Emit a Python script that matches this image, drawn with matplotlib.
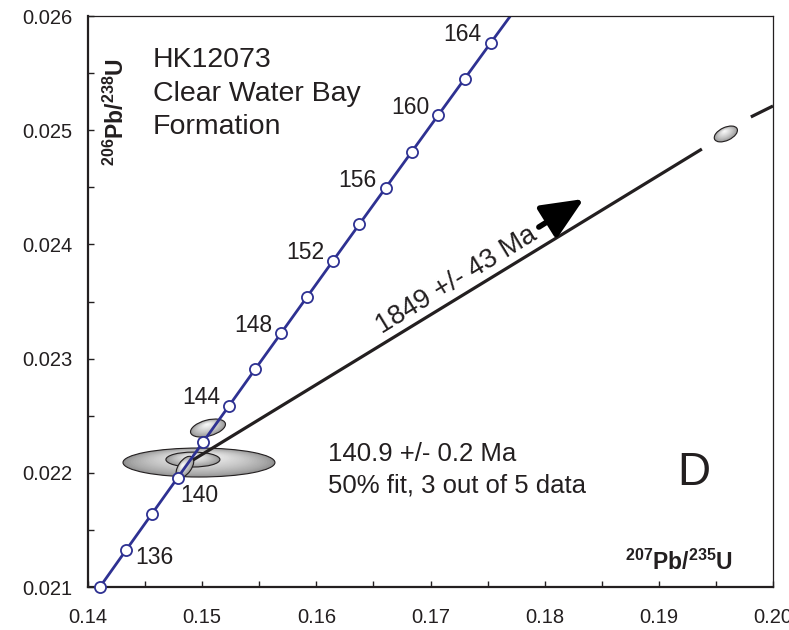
import numpy as np
import matplotlib
matplotlib.use("Agg")
import matplotlib.pyplot as plt
from matplotlib.patches import Ellipse
from matplotlib.ticker import MultipleLocator, FormatStrFormatter
import matplotlib.transforms as mtransforms

plt.rcParams['font.family'] = ['Liberation Sans', 'DejaVu Sans']
plt.rcParams['mathtext.fontset'] = 'custom'
plt.rcParams['mathtext.rm'] = 'Liberation Sans'
plt.rcParams['mathtext.bf'] = 'Liberation Sans:bold'

# ---- data ----
ages = [134, 136, 138, 140, 142, 144, 146, 148, 150, 152, 154, 156, 158, 160, 162, 164, 166]
conc_x = [0.14107, 0.14332, 0.14558, 0.14784, 0.15010, 0.15237, 0.15464, 0.15692, 0.15920,
          0.16148, 0.16377, 0.16607, 0.16837, 0.17067, 0.17298, 0.17529, 0.17762]
conc_y = [0.021004, 0.021321, 0.021638, 0.021955, 0.022272, 0.022589, 0.022907, 0.023224, 0.023542,
          0.023859, 0.024177, 0.024495, 0.024813, 0.025131, 0.025449, 0.025767, 0.026085]
label_ages = [136, 140, 144, 148, 152, 156, 160, 164]

# discordia segments (lower intercept -> gap around outlier ellipse -> axis edge)
disc1_x = [0.14919, 0.19377]
disc1_y = [0.022112, 0.024835]
disc2_x = [0.19806, 0.2000]
disc2_y = [0.025116, 0.025212]

# error ellipses: centre x, centre y, major, minor (in y-units on an equal-pixel scale), angle
ell_x = [0.14972, 0.14919, 0.14849, 0.15051, 0.19587]
ell_y = [0.022090, 0.022116, 0.022051, 0.022392, 0.024967]
ell_a = [0.001331, 0.000473, 0.000215, 0.000315, 0.000218]
ell_b = [0.000254, 0.000131, 0.000114, 0.000140, 0.000115]
ell_ang = [0, 0, 55, 15, 25]

# arrow (upper intercept direction)
arrow_tail = (0.17949, 0.024152)
arrow_tip = (0.18343, 0.024398)

TXT = '#231f20'
BLUE = '#2E3192'

fig = plt.figure(figsize=(7.89, 6.30), dpi=100)
ax = fig.add_axes([88/789, 43/630, (773-88)/789, (587-16)/630])
ax.set_xlim(0.14, 0.20)
ax.set_ylim(0.021, 0.026)

# ellipses with gradient (drawn in an equal-pixel space: x/10 vs y)
tr = mtransforms.Affine2D().scale(10, 1) + ax.transData
c_edge = np.array([0.56, 0.56, 0.56])
c_mid = np.array([0.98, 0.98, 0.98])
N = 30
for i, (cx, cy, a, b, ang) in enumerate(zip(ell_x, ell_y, ell_a, ell_b, ell_ang)):
    z = 1 + i * 0.01
    for k in range(N):
        s = 1 - k / N
        t = (k / (N - 1)) ** 0.7
        col = c_edge * (1 - t) + c_mid * t
        off = (1 - s) * 0.25 * b
        th = np.deg2rad(ang)
        ox, oy = -off * np.sin(th), off * np.cos(th)
        e = Ellipse((cx / 10 + ox, cy + oy), a * s, b * s, angle=ang, transform=tr,
                    facecolor=col, edgecolor='none', zorder=z)
        ax.add_patch(e)
    e = Ellipse((cx / 10, cy), a, b, angle=ang, transform=tr, facecolor='none',
                edgecolor=TXT, lw=0.8, zorder=z + 0.005)
    ax.add_patch(e)

# discordia
ax.plot(disc1_x, disc1_y, color=TXT, lw=2.3, zorder=3, solid_capstyle='butt')
ax.plot(disc2_x, disc2_y, color=TXT, lw=2.3, zorder=3, solid_capstyle='butt')

# concordia
ax.plot(conc_x, conc_y, color=BLUE, lw=2.0, zorder=4)
mx = conc_x[:-1]
my = conc_y[:-1]
ax.plot(mx, my, ls='none', marker='o', ms=8, mfc='white', mec=BLUE, mew=1.3,
        zorder=5, clip_on=False)

for age in label_ages:
    i = ages.index(age)
    if age == 136:
        off, ha, va = (6.5, -5.5), 'left', 'center'
    elif age == 140:
        off, ha, va = (16, -13), 'center', 'center'
    else:
        off, ha, va = (-6.5, 5.5), 'right', 'center'
    ax.annotate(str(age), (conc_x[i], conc_y[i]), xytext=off, textcoords='offset points',
                ha=ha, va=va, fontsize=16.5, color=TXT, zorder=6)

# arrow
ax.annotate('', xy=arrow_tip, xytext=arrow_tail,
            arrowprops=dict(arrowstyle='-|>,head_length=1.7,head_width=0.75',
                            mutation_scale=15, lw=4, color='black',
                            shrinkA=0, shrinkB=0), zorder=6)

ax.text(0.17231, 0.023690, '1849 +/- 43 Ma', rotation=31.4, rotation_mode='anchor',
        ha='center', va='center', fontsize=19.5, color=TXT)

# annotation text
ax.text(0.14569, 0.021 + (587 - 67) / 114200, 'HK12073', fontsize=20.5, color=TXT,
        ha='left', va='baseline')
ax.text(0.14569, 0.021 + (587 - 101) / 114200, 'Clear Water Bay', fontsize=20.5, color=TXT,
        ha='left', va='baseline')
ax.text(0.14569, 0.021 + (587 - 134) / 114200, 'Formation', fontsize=20.5, color=TXT,
        ha='left', va='baseline')

ax.text(0.16102, 0.021 + (587 - 461) / 114200, '140.9 +/- 0.2 Ma', fontsize=18.5,
        color=TXT, ha='left', va='baseline')
ax.text(0.16102, 0.021 + (587 - 492) / 114200, '50% fit, 3 out of 5 data', fontsize=18.5,
        color=TXT, ha='left', va='baseline')

ax.text(0.19158, 0.021893, 'D', fontsize=33, color=TXT, ha='left', va='baseline')

ax.text(0.18702, 0.021149, r'$\mathbf{{}^{207}Pb/{}^{235}U}$', fontsize=16.5, color=TXT,
        ha='left', va='baseline')
ax.text(0.14245, 0.025159, r'$\mathbf{{}^{206}Pb/{}^{238}U}$', fontsize=16.5, color=TXT,
        ha='center', va='center', rotation=90)

# axes styling
ax.xaxis.set_major_locator(MultipleLocator(0.01))
ax.xaxis.set_minor_locator(MultipleLocator(0.005))
ax.yaxis.set_major_locator(MultipleLocator(0.001))
ax.yaxis.set_minor_locator(MultipleLocator(0.0005))
ax.xaxis.set_major_formatter(FormatStrFormatter('%.2f'))
ax.yaxis.set_major_formatter(FormatStrFormatter('%.3f'))
ax.tick_params(which='both', direction='in', length=4.5, width=1, color=TXT,
               top=False, right=False)
ax.tick_params(axis='x', which='major', pad=15, labelsize=14.5, labelcolor=TXT)
ax.tick_params(axis='y', which='major', pad=11, labelsize=14.5, labelcolor=TXT)
for sp in ['left', 'bottom']:
    ax.spines[sp].set_linewidth(1.6)
    ax.spines[sp].set_color(TXT)
for sp in ['top', 'right']:
    ax.spines[sp].set_linewidth(0.9)
    ax.spines[sp].set_color(TXT)
    ax.spines[sp].set_zorder(10)

fig.savefig('out.png', dpi=100)
